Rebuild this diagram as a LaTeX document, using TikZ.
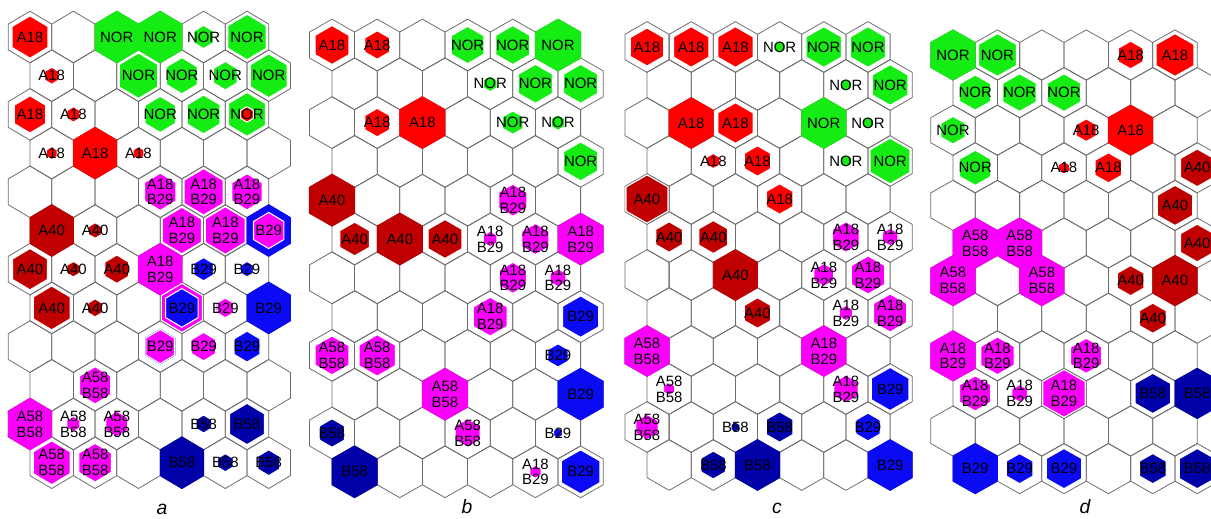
\documentclass[tikz,border=0pt]{standalone}
\usepackage{fontspec}
\setmainfont{Liberation Sans}
\definecolor{cR}{RGB}{255,0,0}
\definecolor{cD}{RGB}{192,0,0}
\definecolor{cG}{RGB}{20,236,20}
\definecolor{cM}{RGB}{250,0,250}
\definecolor{cB}{RGB}{10,10,245}
\definecolor{cN}{RGB}{0,0,168}
\definecolor{gridgrey}{RGB}{110,110,110}
\tikzset{
  gridhex/.style={draw=gridgrey,line width=0.45pt},
  lbl/.style={inner sep=0pt,align=center,font=\fontsize{8.5}{9}\selectfont},
  panellbl/.style={inner sep=0pt,font=\itshape\fontsize{11}{13}\selectfont}
}
\newcommand\hexat[4]{\path[#4] (#1,#2) ++(0,{-\hr*#3}) -- ++({\hw*#3},{\hr*#3/2}) -- ++(0,{\hr*#3}) -- ++({-\hw*#3},{\hr*#3/2}) -- ++({-\hw*#3},{-\hr*#3/2}) -- ++(0,{-\hr*#3}) -- cycle;}
\newcommand\drawpanel[6]{%
  \pgfmathsetmacro\hw{#3/2}%
  \pgfmathsetmacro\hr{2*#4/3}%
  \foreach \rr in {1,...,12}{\foreach \cc in {1,...,6}{%
    \pgfmathsetmacro\cx{#1+(\cc-1)*#3+(1-mod(\rr,2))*#3/2}%
    \pgfmathsetmacro\cy{#2+(\rr-1)*#4}%
    \hexat{\cx}{\cy}{1}{gridhex}}}%
  \foreach \rr/\cc/\col/\s/\lab in {#6}{%
    \pgfmathsetmacro\cx{#1+(\cc-1)*#3+(1-mod(\rr,2))*#3/2}%
    \pgfmathsetmacro\cy{#2+(\rr-1)*#4}%
    \ifdim\s pt>0.97pt
      \hexat{\cx}{\cy}{1}{fill=\col,draw=\col,line width=0.5pt}%
    \else
      \hexat{\cx}{\cy}{\s}{fill=\col,draw=white,line width=0.6pt}%
    \fi
    \node[lbl] (#5-\rr-\cc) at (\cx,\cy) {\lab};}%
}
\begin{document}
\begin{tikzpicture}[x=0.02cm,y=-0.02cm]
\useasboundingbox (0,0) rectangle (1211,518);
\clip (0,0) rectangle (1211,518);
\fill[white] (0,0) rectangle (1211,518);
% panel a
\drawpanel{30}{37}{43.4}{38.7}{a}{
1/1/cR/0.82/A18, 1/3/cG/1/NOR, 1/4/cG/1/NOR, 1/5/cG/0.45/NOR, 1/6/cG/0.88/NOR,
2/1/cR/0.33/A18, 2/3/cG/0.88/NOR, 2/4/cG/0.7/NOR, 2/5/cG/0.55/NOR, 2/6/cG/0.85/NOR,
3/1/cR/0.72/A18, 3/2/cR/0.3/A18, 3/4/cG/0.7/NOR, 3/5/cG/0.75/NOR, 3/6/cG/0.85/{}, 3/6/cR/0.3/NOR,
4/1/cR/0.25/A18, 4/2/cR/1/A18, 4/3/cR/0.25/A18,
5/4/cM/0.72/A18\\B29, 5/5/cM/0.9/A18\\B29, 5/6/cM/0.7/A18\\B29,
6/1/cD/1/A40, 6/2/cD/0.3/A40, 6/4/cM/0.9/A18\\B29, 6/5/cM/0.92/A18\\B29, 6/6/cB/1/{}, 6/6/cM/0.7/B29,
7/1/cD/0.8/A40, 7/2/cD/0.3/A40, 7/3/cD/0.55/A40, 7/4/cM/1/A18\\B29, 7/5/cB/0.45/B29, 7/6/cB/0.3/B29,
8/1/cD/0.85/A40, 8/2/cD/0.35/A40, 8/4/cM/0.95/{}, 8/4/cB/0.75/B29, 8/5/cB/0.42/{}, 8/5/cM/0.38/B29, 8/6/cB/1/B29,
9/4/cB/0.72/{}, 9/4/cM/0.66/B29, 9/5/cM/0.55/B29, 9/6/cB/0.6/B29,
10/2/cM/0.72/A58\\B58,
11/1/cM/1/A58\\B58, 11/2/cM/0.3/A58\\B58, 11/3/cM/0.5/A58\\B58, 11/5/cN/0.35/B58, 11/6/cN/0.8/B58,
12/1/cM/0.85/A58\\B58, 12/2/cM/0.75/A58\\B58, 12/4/cN/1/B58, 12/5/cN/0.35/B58, 12/6/cN/0.5/B58}
% panel b
\drawpanel{332}{45}{45.2}{38.8}{b}{
1/1/cR/0.75/A18, 1/2/cR/0.55/A18, 1/4/cG/0.72/NOR, 1/5/cG/0.75/NOR, 1/6/cG/1/NOR,
2/4/cG/0.3/NOR, 2/5/cG/0.75/NOR, 2/6/cG/0.75/NOR,
3/2/cR/0.55/A18, 3/3/cR/1/A18, 3/5/cG/0.45/NOR, 3/6/cG/0.3/NOR,
4/6/cG/0.75/NOR,
5/1/cD/1/A40, 5/5/cM/0.62/A18\\B29,
6/1/cD/0.65/A40, 6/2/cD/1/A40, 6/3/cD/0.75/A40, 6/4/cM/0.3/A18\\B29, 6/5/cM/0.6/A18\\B29, 6/6/cM/1/A18\\B29,
7/5/cM/0.6/A18\\B29, 7/6/cM/0.35/A18\\B29,
8/4/cM/0.75/A18\\B29, 8/6/cB/0.8/B29,
9/1/cM/0.75/A58\\B58, 9/2/cM/0.8/A58\\B58, 9/6/cB/0.45/B29,
10/3/cM/1/A58\\B58, 10/6/cB/1/B29,
11/1/cN/0.55/B58, 11/4/cM/0.55/A58\\B58, 11/6/cB/0.2/B29,
12/1/cN/1/B58, 12/5/cM/0.25/A18\\B29, 12/6/cB/0.85/B29}
% panel c
\drawpanel{647}{47}{44.2}{38.0}{c}{
1/1/cR/0.75/A18, 1/2/cR/0.8/A18, 1/3/cR/0.8/A18, 1/4/cG/0.25/NOR, 1/5/cG/0.8/NOR, 1/6/cG/0.8/NOR,
2/5/cG/0.25/NOR, 2/6/cG/0.8/NOR,
3/2/cR/1/A18, 3/3/cR/0.8/A18, 3/5/cG/1/NOR, 3/6/cG/0.25/NOR,
4/2/cR/0.3/A18, 4/3/cR/0.6/A18, 4/5/cG/0.25/NOR, 4/6/cG/0.9/NOR,
5/1/cD/0.95/A40, 5/4/cR/0.6/A18,
6/1/cD/0.6/A40, 6/2/cD/0.65/A40, 6/5/cM/0.6/A18\\B29, 6/6/cM/0.35/A18\\B29,
7/3/cD/1/A40, 7/5/cM/0.45/A18\\B29, 7/6/cM/0.75/A18\\B29,
8/3/cD/0.6/A40, 8/5/cM/0.3/A18\\B29, 8/6/cM/0.75/A18\\B29,
9/1/cM/1/A58\\B58, 9/5/cM/1/A18\\B29,
10/1/cM/0.25/A58\\B58, 10/5/cM/0.55/A18\\B29, 10/6/cB/0.85/B29,
11/1/cM/0.5/A58\\B58, 11/3/cN/0.2/B58, 11/4/cN/0.6/B58, 11/6/cB/0.55/B29,
12/2/cN/0.55/B58, 12/3/cN/1/B58, 12/6/cB/1/B29}
% panel d
\drawpanel{953}{55}{44.4}{37.6}{d}{
1/1/cG/1/NOR, 1/2/cG/0.85/NOR, 1/5/cR/0.55/A18, 1/6/cR/0.85/A18,
2/1/cG/0.7/NOR, 2/2/cG/0.75/NOR, 2/3/cG/0.75/NOR,
3/1/cG/0.55/NOR, 3/4/cR/0.45/A18, 3/5/cR/1/A18,
4/1/cG/0.7/NOR, 4/3/cR/0.25/A18, 4/4/cR/0.6/A18, 4/6/cD/0.75/A40,
5/6/cD/0.8/A40,
6/1/cM/1/A58\\B58, 6/2/cM/1/A58\\B58, 6/6/cD/0.75/A40,
7/1/cM/1/A58\\B58, 7/3/cM/1/A58\\B58, 7/5/cD/0.6/A40, 7/6/cD/1/A40,
8/5/cD/0.6/A40,
9/1/cM/1/A18\\B29, 9/2/cM/0.75/A18\\B29, 9/4/cM/0.7/A18\\B29,
10/1/cM/0.7/A18\\B29, 10/2/cM/0.35/A18\\B29, 10/3/cM/0.95/A18\\B29, 10/5/cN/0.8/B58, 10/6/cN/1/B58,
12/1/cB/1/B29, 12/2/cB/0.6/B29, 12/3/cB/0.8/B29, 12/5/cN/0.6/B58, 12/6/cN/0.8/B58}
\node[panellbl] (lab-a) at (162,509) {a};
\node[panellbl] (lab-b) at (467,507) {b};
\node[panellbl] (lab-c) at (777,508) {c};
\node[panellbl] (lab-d) at (1085,507) {d};
\end{tikzpicture}
\end{document}
